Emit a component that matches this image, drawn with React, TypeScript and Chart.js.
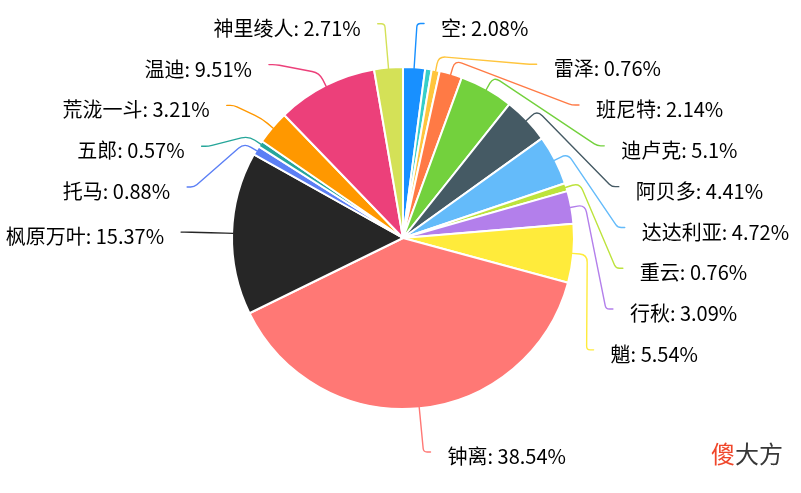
import { useEffect, useRef } from 'react';
import { Chart, registerables } from 'chart.js';

Chart.register(...registerables);

// ---- data ----
const names = ['空', '', '雷泽', '班尼特', '迪卢克', '阿贝多', '达达利亚', '重云', '行秋', '魈', '钟离', '枫原万叶', '托马', '五郎', '荒泷一斗', '温迪', '神里绫人'];
const values = [2.08, 0.61, 0.76, 2.14, 5.1, 4.41, 4.72, 0.76, 3.09, 5.54, 38.54, 15.37, 0.88, 0.57, 3.21, 9.51, 2.71];
const showLabel = [true, false, true, true, true, true, true, true, true, true, true, true, true, true, true, true, true];
const colors = ['#1890ff', '#36cfc9', '#ffc53d', '#ff7a45', '#73d13d', '#455a64', '#64bbfa', '#bde33c', '#b37feb', '#ffeb3b', '#ff7875', '#262626', '#5b7ff5', '#26a69a', '#ff9800', '#ec407a', '#d4e157'];
const watermarkRed = '傻';
const watermarkRest = '大方';

const FONT = '"Noto Sans CJK SC", "Noto Sans", sans-serif';

function smoothLine(ctx: CanvasRenderingContext2D, pts: number[][], rad: number) {
  ctx.beginPath();
  ctx.moveTo(pts[0][0], pts[0][1]);
  for (let i = 1; i < pts.length - 1; i++) {
    const [px, py] = pts[i - 1];
    const [x, y] = pts[i];
    const [nx, ny] = pts[i + 1];
    const l1 = Math.hypot(x - px, y - py);
    const l2 = Math.hypot(nx - x, ny - y);
    if (l1 < 0.01 || l2 < 0.01) {
      ctx.lineTo(x, y);
      continue;
    }
    const d = Math.min(rad, l1 / 2, l2 / 2);
    const ax = x - ((x - px) / l1) * d;
    const ay = y - ((y - py) / l1) * d;
    const bx = x + ((nx - x) / l2) * d;
    const by = y + ((ny - y) / l2) * d;
    ctx.lineTo(ax, ay);
    ctx.quadraticCurveTo(x, y, bx, by);
  }
  const last = pts[pts.length - 1];
  ctx.lineTo(last[0], last[1]);
  ctx.stroke();
}

const labelPlugin = {
  id: 'outerLabels',
  afterDraw(chart: any) {
    const ctx: CanvasRenderingContext2D = chart.ctx;
    const meta = chart.getDatasetMeta(0);
    const arcs = meta.data;
    if (!arcs.length) return;
    const LEN1 = 15;
    const RING = 45;
    const LEN2 = 7;
    const TEXT_OFF = 24;
    const SPACING = 40.8;
    const TEXT_DY = 4.5;

    type Item = { i: number; side: number; p0: number[]; p1: number[]; ny: number; y: number; cx: number; cy: number; R: number };
    const items: Item[] = [];
    arcs.forEach((arc: any, i: number) => {
      if (!showLabel[i]) return;
      const p = arc.getProps(['x', 'y', 'startAngle', 'endAngle', 'outerRadius'], true);
      const mid = (p.startAngle + p.endAngle) / 2;
      const r = p.outerRadius - 1;
      const c = Math.cos(mid);
      const s = Math.sin(mid);
      const p0 = [p.x + r * c, p.y + r * s];
      const p1 = [p.x + (r + LEN1) * c, p.y + (r + LEN1) * s];
      const R = r + RING;
      const ny = p.y + R * s;
      items.push({ i, side: c >= 0 ? 1 : -1, p0, p1, ny, y: ny, cx: p.x, cy: p.y, R });
    });

    [1, -1].forEach((side) => {
      const list = items.filter((it) => it.side === side).sort((a, b) => a.ny - b.ny);
      let prev = -Infinity;
      list.forEach((it) => {
        it.y = Math.max(it.ny, prev + SPACING);
        prev = it.y;
      });
    });

    ctx.save();
    items.forEach((it) => {
      const dy = Math.abs(it.y - it.cy);
      const dx = Math.sqrt(Math.max(0, it.R * it.R - dy * dy));
      const tx = it.cx + it.side * dx;
      const p2 = [tx, it.y];
      const p3 = [tx + it.side * LEN2, it.y];
      ctx.strokeStyle = colors[it.i];
      ctx.lineWidth = 1.4;
      ctx.lineJoin = 'round';
      ctx.lineCap = 'round';
      smoothLine(ctx, [it.p0, it.p1, p2, p3], 16);

      ctx.fillStyle = '#000';
      ctx.font = `20px ${FONT}`;
      ctx.textBaseline = 'middle';
      ctx.textAlign = it.side > 0 ? 'left' : 'right';
      ctx.fillText(`${names[it.i]}: ${values[it.i]}%`, tx + it.side * TEXT_OFF, it.y + TEXT_DY);
    });

    // watermark
    ctx.font = `24px ${FONT}`;
    ctx.textBaseline = 'middle';
    ctx.textAlign = 'left';
    const wx = 711;
    const wy = 454;
    ctx.fillStyle = '#f0462a';
    ctx.fillText(watermarkRed, wx, wy);
    const w = ctx.measureText(watermarkRed).width;
    ctx.fillStyle = '#383838';
    ctx.fillText(watermarkRest, wx + w, wy);
    ctx.restore();
  },
};

export default function App() {
  const ref = useRef<HTMLCanvasElement>(null);
  useEffect(() => {
    document.body.style.margin = '0';
    if (!ref.current) return;
    const chart = new Chart(ref.current, {
      type: 'pie',
      data: {
        labels: names,
        datasets: [
          {
            data: values,
            backgroundColor: colors,
            borderColor: '#ffffff',
            borderWidth: 2,
            radius: 171,
          } as any,
        ],
      },
      options: {
        responsive: false,
        animation: false,
        devicePixelRatio: 1,
        layout: { padding: { left: 5, right: 0, top: 0, bottom: 17 } },
        plugins: {
          legend: { display: false },
          tooltip: { enabled: false },
        },
      },
      plugins: [labelPlugin],
    });
    return () => chart.destroy();
  }, []);
  return (
    <div style={{ width: 801, height: 493, background: '#fff' }}>
      <canvas ref={ref} width={801} height={493} style={{ display: 'block' }} />
    </div>
  );
}
